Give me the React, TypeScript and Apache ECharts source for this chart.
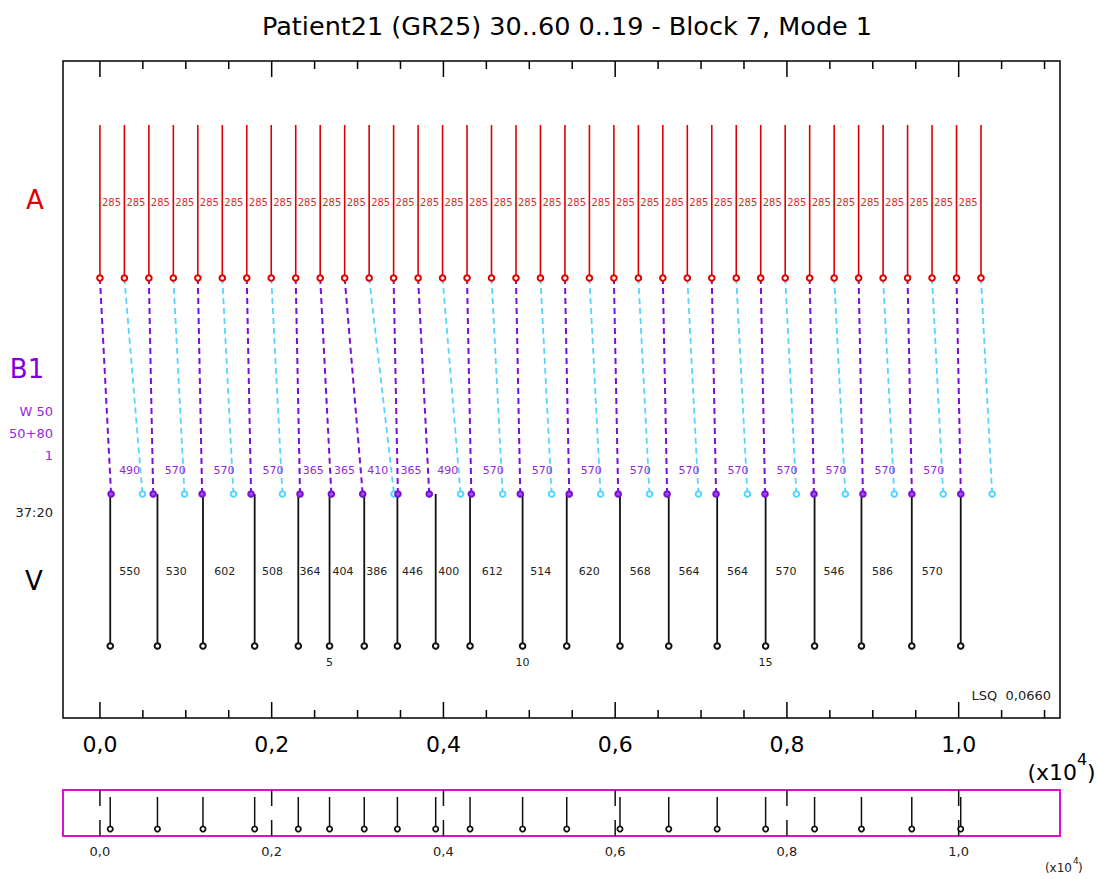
import React, { useEffect, useRef } from 'react';
import * as echarts from 'echarts';

const TITLE = 'Patient21 (GR25) 30..60 0..19 - Block 7, Mode 1';

// Atrial events (ms)
const A_TIMES = [0, 285, 570, 855, 1140, 1425, 1710, 1995, 2280, 2565, 2850, 3135, 3420, 3705, 3990, 4275, 4560, 4845, 5130, 5415, 5700, 5985, 6270, 6555, 6840, 7125, 7410, 7695, 7980, 8265, 8550, 8835, 9120, 9405, 9690, 9975, 10260];

// Conducted B1 events (index of source A, time ms)
const B1_FROM_A = [0, 2, 4, 6, 8, 9, 10, 12, 13, 15, 17, 19, 21, 23, 25, 27, 29, 31, 33, 35];
const B1_TIMES = [130, 620, 1190, 1760, 2330, 2695, 3060, 3470, 3835, 4325, 4895, 5465, 6035, 6605, 7175, 7745, 8315, 8885, 9455, 10025];

// Blocked impulses (index of source A, time ms)
const BLOCK_FROM_A = [1, 3, 5, 7, 11, 14, 16, 18, 20, 22, 24, 26, 28, 30, 32, 34, 36];
const BLOCK_TIMES = [495, 985, 1555, 2125, 3425, 4200, 4690, 5260, 5830, 6400, 6970, 7540, 8110, 8680, 9250, 9820, 10390];

// Ventricular events (ms)
const V_TIMES = [120, 670, 1200, 1802, 2310, 2674, 3078, 3464, 3910, 4310, 4922, 5436, 6056, 6624, 7188, 7752, 8322, 8868, 9454, 10024];
const BEAT_MARKS = [5, 10, 15];

// Axis ticks
const TICK_VALUES = [0, 500, 1000, 1500, 2000, 2500, 3000, 3500, 4000, 4500, 5000, 5500, 6000, 6500, 7000, 7500, 8000, 8500, 9000, 9500, 10000, 10500, 11000];
const MAJOR_TICKS = [0, 2000, 4000, 6000, 8000, 10000];

const X_MIN = -430;
const X_MAX = 11180;

// Row levels in the main plot (value units, 0 = bottom, 657 = top)
const Y_MAX = 657;
const A_TOP = 593;
const A_BOT = 440;
const B1_Y = 224;
const V_BOT = 72;
const A_LABEL_Y = 516;
const B1_LABEL_Y = 248;
const V_LABEL_Y = 147;
const BEAT_Y = 56;

const RED = '#dd0000';
const RED_LABEL = '#e0282c';
const PURPLE = '#7a0fd6';
const PURPLE_LABEL = '#9428e0';
const CYAN = '#55d5ff';
const MAGENTA = '#dd11cc';
const FONT = 'DejaVu Sans';

const fmtTick = (v: number) => (v / 10000).toFixed(1).replace('.', ',');

export default function App() {
  const ref = useRef<HTMLDivElement>(null);

  useEffect(() => {
    document.body.style.margin = '0';
    if (!ref.current) return;
    const chart = echarts.init(ref.current, null, { renderer: 'svg' });

    const aIntervals = A_TIMES.slice(1).map((t, i) => [A_TIMES[i], t, t - A_TIMES[i]]);
    const b1Intervals = B1_TIMES.slice(1).map((t, i) => [B1_TIMES[i], t, t - B1_TIMES[i]]);
    const vIntervals = V_TIMES.slice(1).map((t, i) => [V_TIMES[i], t, t - V_TIMES[i]]);

    const option: any = {
      animation: false,
      title: {
        text: TITLE,
        left: 257,
        top: 8,
        textStyle: { fontFamily: FONT, fontSize: 25.5, fontWeight: 'normal', color: '#000' },
      },
      grid: [
        { left: 63, top: 61, width: 997, height: 657, show: true, borderColor: '#000', borderWidth: 1.5, backgroundColor: 'transparent' },
        { left: 63, top: 790, width: 997, height: 46, show: true, borderColor: MAGENTA, borderWidth: 2, backgroundColor: 'transparent' },
      ],
      xAxis: [
        {
          type: 'value', gridIndex: 0, min: X_MIN, max: X_MAX,
          axisLine: { show: false }, axisTick: { show: false }, splitLine: { show: false },
          axisLabel: { customValues: MAJOR_TICKS, formatter: fmtTick, fontFamily: FONT, fontSize: 22, color: '#000', margin: 15 },
        },
        {
          type: 'value', gridIndex: 1, min: X_MIN, max: X_MAX,
          axisLine: { show: false }, axisTick: { show: false }, splitLine: { show: false },
          axisLabel: { customValues: MAJOR_TICKS, formatter: fmtTick, fontFamily: FONT, fontSize: 13, color: '#222', margin: 9 },
        },
      ],
      yAxis: [
        { type: 'value', gridIndex: 0, min: 0, max: Y_MAX, show: false },
        { type: 'value', gridIndex: 1, min: 0, max: 46, show: false },
      ],
      graphic: [
        { type: 'text', x: 35, y: 200, style: { text: 'A', fill: RED, fontSize: 26, fontFamily: FONT, align: 'center', verticalAlign: 'middle' } },
        { type: 'text', x: 27, y: 369, style: { text: 'B1', fill: '#8000dd', fontSize: 26, fontFamily: FONT, align: 'center', verticalAlign: 'middle' } },
        { type: 'text', x: 53, y: 411, style: { text: 'W 50', fill: PURPLE_LABEL, fontSize: 13, fontFamily: FONT, align: 'right', verticalAlign: 'middle' } },
        { type: 'text', x: 53, y: 433, style: { text: '50+80', fill: PURPLE_LABEL, fontSize: 13, fontFamily: FONT, align: 'right', verticalAlign: 'middle' } },
        { type: 'text', x: 53, y: 455, style: { text: '1', fill: PURPLE_LABEL, fontSize: 13, fontFamily: FONT, align: 'right', verticalAlign: 'middle' } },
        { type: 'text', x: 53, y: 512, style: { text: '37:20', fill: '#222', fontSize: 13, fontFamily: FONT, align: 'right', verticalAlign: 'middle' } },
        { type: 'text', x: 34, y: 581, style: { text: 'V', fill: '#000', fontSize: 26, fontFamily: FONT, align: 'center', verticalAlign: 'middle' } },
        { type: 'text', x: 1051, y: 695, style: { text: 'LSQ  0,0660', fill: '#222', fontSize: 13, fontFamily: FONT, align: 'right', verticalAlign: 'middle' } },
        { type: 'text', x: 1077, y: 772, style: { text: '(x10', fill: '#000', fontSize: 22, fontFamily: FONT, align: 'right', verticalAlign: 'middle' } },
        { type: 'text', x: 1077, y: 759, style: { text: '4', fill: '#000', fontSize: 16, fontFamily: FONT, align: 'left', verticalAlign: 'middle' } },
        { type: 'text', x: 1087, y: 772, style: { text: ')', fill: '#000', fontSize: 22, fontFamily: FONT, align: 'left', verticalAlign: 'middle' } },
        { type: 'text', x: 1072, y: 868, style: { text: '(x10', fill: '#222', fontSize: 12, fontFamily: FONT, align: 'right', verticalAlign: 'middle' } },
        { type: 'text', x: 1073, y: 861, style: { text: '4', fill: '#222', fontSize: 9, fontFamily: FONT, align: 'left', verticalAlign: 'middle' } },
        { type: 'text', x: 1078, y: 868, style: { text: ')', fill: '#222', fontSize: 12, fontFamily: FONT, align: 'left', verticalAlign: 'middle' } },
      ],
      series: [
        {
          type: 'custom', xAxisIndex: 0, yAxisIndex: 0, silent: true,
          data: TICK_VALUES.map((t) => [t]),
          renderItem: (params: any, api: any) => {
            const t = api.value(0);
            const len = MAJOR_TICKS.indexOf(t) >= 0 ? 16 : 8;
            const b = api.coord([t, 0]);
            const tp = api.coord([t, Y_MAX]);
            return {
              type: 'group',
              children: [
                { type: 'line', shape: { x1: b[0], y1: b[1], x2: b[0], y2: b[1] - len }, style: { stroke: '#000', lineWidth: 1.5 } },
                { type: 'line', shape: { x1: tp[0], y1: tp[1], x2: tp[0], y2: tp[1] + len }, style: { stroke: '#000', lineWidth: 1.5 } },
              ],
            };
          },
        },
        {
          type: 'custom', xAxisIndex: 0, yAxisIndex: 0, silent: true,
          data: BLOCK_TIMES.map((t, i) => [A_TIMES[BLOCK_FROM_A[i]], t]),
          renderItem: (params: any, api: any) => {
            const p1 = api.coord([api.value(0), A_BOT]);
            const p2 = api.coord([api.value(1), B1_Y]);
            return {
              type: 'group',
              children: [
                { type: 'line', shape: { x1: p1[0], y1: p1[1], x2: p2[0], y2: p2[1] }, style: { stroke: CYAN, lineWidth: 1.8, lineDash: [6, 4] } },
                { type: 'circle', shape: { cx: p2[0], cy: p2[1], r: 2.8 }, style: { fill: '#fff', stroke: CYAN, lineWidth: 2 } },
              ],
            };
          },
        },
        {
          type: 'custom', xAxisIndex: 0, yAxisIndex: 0, silent: true,
          data: B1_TIMES.map((t, i) => [A_TIMES[B1_FROM_A[i]], t]),
          renderItem: (params: any, api: any) => {
            const p1 = api.coord([api.value(0), A_BOT]);
            const p2 = api.coord([api.value(1), B1_Y]);
            return {
              type: 'line', shape: { x1: p1[0], y1: p1[1], x2: p2[0], y2: p2[1] }, style: { stroke: PURPLE, lineWidth: 2, lineDash: [6, 4] },
            };
          },
        },
        {
          type: 'custom', xAxisIndex: 0, yAxisIndex: 0, silent: true,
          data: V_TIMES.map((t, i) => [t, i]),
          renderItem: (params: any, api: any) => {
            const t = api.value(0);
            const idx = api.value(1);
            const p1 = api.coord([t, B1_Y]);
            const p2 = api.coord([t, V_BOT]);
            const children: any[] = [
              { type: 'line', shape: { x1: p1[0], y1: p1[1], x2: p2[0], y2: p2[1] }, style: { stroke: '#111', lineWidth: 1.8 } },
              { type: 'circle', shape: { cx: p2[0], cy: p2[1], r: 2.8 }, style: { fill: '#fff', stroke: '#111', lineWidth: 2 } },
            ];
            if (BEAT_MARKS.indexOf(idx) >= 0) {
              const pb = api.coord([t, BEAT_Y]);
              children.push({ type: 'text', style: { x: pb[0], y: pb[1], text: String(idx), fill: '#222', fontSize: 11, fontFamily: FONT, align: 'center', verticalAlign: 'middle' } });
            }
            return { type: 'group', children };
          },
        },
        {
          type: 'custom', xAxisIndex: 0, yAxisIndex: 0, silent: true,
          data: B1_TIMES.map((t) => [t]),
          renderItem: (params: any, api: any) => {
            const p = api.coord([api.value(0), B1_Y]);
            return { type: 'circle', shape: { cx: p[0], cy: p[1], r: 2.8 }, style: { fill: '#a050e8', stroke: PURPLE, lineWidth: 2 } };
          },
        },
        {
          type: 'custom', xAxisIndex: 0, yAxisIndex: 0, silent: true,
          data: A_TIMES.map((t) => [t]),
          renderItem: (params: any, api: any) => {
            const t = api.value(0);
            const p1 = api.coord([t, A_TOP]);
            const p2 = api.coord([t, A_BOT]);
            return {
              type: 'group',
              children: [
                { type: 'line', shape: { x1: p1[0], y1: p1[1], x2: p2[0], y2: p2[1] }, style: { stroke: RED, lineWidth: 1.6 } },
                { type: 'circle', shape: { cx: p2[0], cy: p2[1], r: 2.8 }, style: { fill: '#fff', stroke: RED, lineWidth: 2 } },
              ],
            };
          },
        },
        {
          type: 'custom', xAxisIndex: 0, yAxisIndex: 0, silent: true,
          data: aIntervals,
          renderItem: (params: any, api: any) => {
            const p = api.coord([api.value(0), A_LABEL_Y]);
            return { type: 'text', style: { x: p[0] + 2, y: p[1], text: String(api.value(2)), fill: RED_LABEL, fontSize: 10, fontFamily: FONT, align: 'left', verticalAlign: 'middle' } };
          },
        },
        {
          type: 'custom', xAxisIndex: 0, yAxisIndex: 0, silent: true,
          data: b1Intervals,
          renderItem: (params: any, api: any) => {
            const p = api.coord([(api.value(0) + api.value(1)) / 2, B1_LABEL_Y]);
            return { type: 'text', style: { x: p[0] - 2.5, y: p[1], text: String(api.value(2)), fill: PURPLE_LABEL, fontSize: 11, fontFamily: FONT, align: 'center', verticalAlign: 'middle' } };
          },
        },
        {
          type: 'custom', xAxisIndex: 0, yAxisIndex: 0, silent: true,
          data: vIntervals,
          renderItem: (params: any, api: any) => {
            const p = api.coord([(api.value(0) + api.value(1)) / 2, V_LABEL_Y]);
            return { type: 'text', style: { x: p[0] - 4, y: p[1], text: String(api.value(2)), fill: '#222', fontSize: 11, fontFamily: FONT, align: 'center', verticalAlign: 'middle' } };
          },
        },
        {
          type: 'custom', xAxisIndex: 1, yAxisIndex: 1, silent: true,
          data: MAJOR_TICKS.map((t) => [t]),
          renderItem: (params: any, api: any) => {
            const p1 = api.coord([api.value(0), 46]);
            const p2 = api.coord([api.value(0), 0]);
            return { type: 'line', shape: { x1: p1[0], y1: p1[1], x2: p2[0], y2: p2[1] }, style: { stroke: '#111', lineWidth: 1.5, lineDash: [16, 14] } };
          },
        },
        {
          type: 'custom', xAxisIndex: 1, yAxisIndex: 1, silent: true,
          data: V_TIMES.map((t) => [t]),
          renderItem: (params: any, api: any) => {
            const p1 = api.coord([api.value(0), 39]);
            const p2 = api.coord([api.value(0), 7]);
            return {
              type: 'group',
              children: [
                { type: 'line', shape: { x1: p1[0], y1: p1[1], x2: p2[0], y2: p2[1] }, style: { stroke: '#111', lineWidth: 1.5 } },
                { type: 'circle', shape: { cx: p2[0], cy: p2[1], r: 2.6 }, style: { fill: '#fff', stroke: '#111', lineWidth: 1.8 } },
              ],
            };
          },
        },
      ],
    };

    chart.setOption(option);
    return () => chart.dispose();
  }, []);

  return <div ref={ref} style={{ width: 1098, height: 879 }} />;
}
